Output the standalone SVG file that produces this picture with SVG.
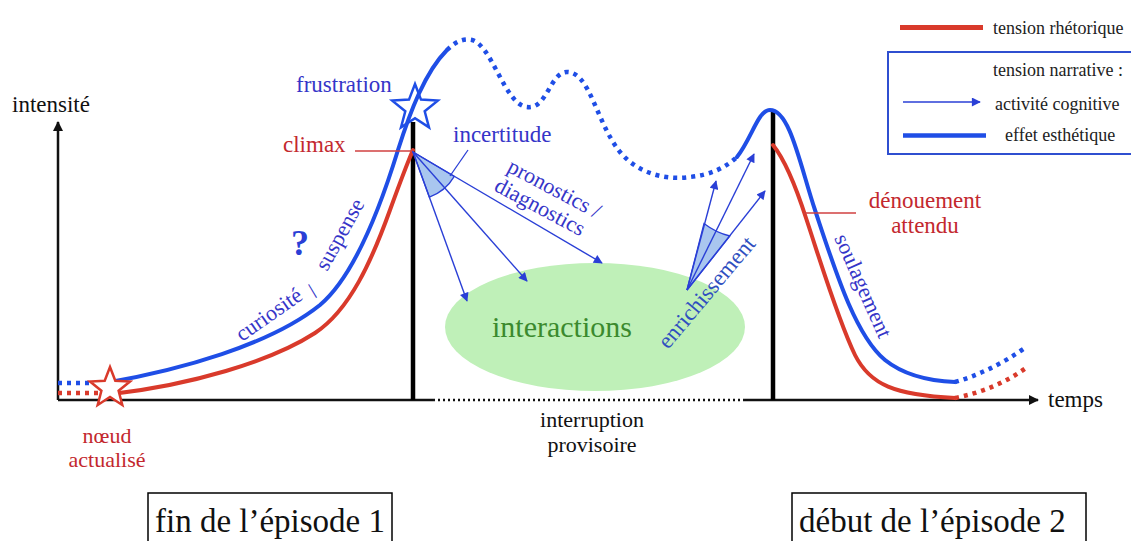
<svg xmlns="http://www.w3.org/2000/svg" width="1131" height="541" viewBox="0 0 1131 541" font-family="'Liberation Serif','DejaVu Serif',serif">
<style>
text{font-family:"Liberation Serif","DejaVu Serif",serif}
.bl{fill:#3535c8}
.rd{fill:#c3282e}
.bk{fill:#111}
.lg{fill:#222;font-size:18px}
.cb{fill:none;stroke:#1f4ee6;stroke-width:4;stroke-linecap:round}
.cr{fill:none;stroke:#d93a2b;stroke-width:4;stroke-linecap:round}
.db{fill:none;stroke:#1f4ee6;stroke-width:4.5;stroke-dasharray:4 5}
.dr{fill:none;stroke:#d93a2b;stroke-width:4.5;stroke-dasharray:4 5}
.ar{fill:none;stroke:#2a3fd6;stroke-width:1.4;marker-end:url(#ah)}
.wd{fill:#a9c6ef;stroke:#2a3fd6;stroke-width:1.3}
.ax{fill:none;stroke:#111;stroke-width:2.5}
.bar{stroke:#000;stroke-width:4.5}
</style>
<defs>
<marker id="ah" viewBox="0 0 10 10" refX="9" refY="5" markerUnits="userSpaceOnUse" markerWidth="10" markerHeight="9" orient="auto"><path d="M0,0 L10,5 L0,10 z" fill="#2a3fd6"/></marker>
<marker id="ak" viewBox="0 0 10 10" refX="9" refY="5" markerUnits="userSpaceOnUse" markerWidth="11" markerHeight="10" orient="auto"><path d="M0,0 L10,5 L0,10 z" fill="#111"/></marker>
</defs>

<g id="axes">
<path class="ax" d="M58,400 V122" marker-end="url(#ak)"/>
<path class="ax" d="M58,400 H433"/>
<path class="ax" d="M433,400 H745" stroke-dasharray="2 3"/>
<path class="ax" d="M745,400 H1038" marker-end="url(#ak)"/>
<text class="bk" x="12" y="112" font-size="23">intensité</text>
<text class="bk" x="1048" y="407" font-size="23">temps</text>
<text class="bk" x="592" y="427" font-size="22" text-anchor="middle">interruption</text>
<text class="bk" x="592" y="452" font-size="22" text-anchor="middle">provisoire</text>
</g>

<g id="ellipse-interactions">
<ellipse cx="595" cy="327" rx="150" ry="64" fill="#bff0b8"/>
<text x="562" y="337" font-size="30" fill="#3b8a2e" text-anchor="middle">interactions</text>
</g>

<g id="bars">
<line class="bar" x1="413" y1="400" x2="413" y2="122"/>
<line class="bar" x1="773" y1="400" x2="773" y2="112"/>
</g>

<g id="star-frustration">
<polygon points="415,84 421,99.6 437.8,100.6 424.7,111.2 429,127.4 415,118.3 401,127.4 405.3,111.2 392.2,100.6 409,99.6" fill="#fff" stroke="#1f4ee6" stroke-width="2.5"/>
<text class="bl" x="296" y="92" font-size="23">frustration</text>
</g>

<g id="curves">
<path class="db" d="M58,383 H105"/>
<path class="dr" d="M58,393 H100"/>
<path class="cb" d="M105,383 C180,370 270,345 320,305 C352,278 378,215 398,150 C410,112 425,72 447,50"/>
<path class="db" d="M447,50 C455,42 463,38 472,40 C492,45 505,105 527,107 C547,110 550,72 567,72 C590,72 596,122 620,152 C640,176 670,180 690,177 C710,175 725,168 737,157"/>
<path class="cb" d="M737,157 C752,138 758,110 770,110 C790,110 800,165 815,210 C835,270 855,335 885,360 C905,376 930,381 955,382"/>
<path class="db" d="M955,382 Q990,372 1025,348"/>
<path class="cr" d="M112,394 C190,385 270,362 315,333 C350,310 372,260 390,210 C398,188 406,166 413,150"/>
<path class="cr" d="M773,145 C785,160 797,190 806,218 C820,260 838,320 855,355 C870,385 895,395 955,398"/>
<path class="dr" d="M955,398 Q995,390 1026,368"/>
</g>

<g id="star-noeud">
<polygon points="110,367 115.3,380.7 130,381.5 118.6,390.8 122.3,405 110,397 97.7,405 101.4,390.8 90,381.5 104.7,380.7" fill="#fff" stroke="#d93a2b" stroke-width="2.5"/>
<text class="rd" x="107" y="443" font-size="22" text-anchor="middle">nœud</text>
<text class="rd" x="107" y="467" font-size="22" text-anchor="middle">actualisé</text>
</g>

<g id="climax">
<line x1="355" y1="151" x2="412" y2="151" stroke="#d04040" stroke-width="1.3"/>
<text class="rd" x="283" y="152" font-size="23">climax</text>
</g>

<g id="incertitude">
<path class="wd" d="M413,152 L429.4,197.1 A48,48 0 0 0 454.3,176.4 Z"/>
<path class="ar" d="M413,152 L467,301"/>
<path class="ar" d="M413,152 L527,281"/>
<path class="ar" d="M413,152 L602,263"/>
<line x1="468" y1="150" x2="450" y2="176" stroke="#2a3fd6" stroke-width="1.3"/>
<text class="bl" x="453" y="142" font-size="23">incertitude</text>
<text class="bl" x="506" y="171" font-size="22" transform="rotate(28 506 171)">pronostics /</text>
<text class="bl" x="493" y="190" font-size="22" transform="rotate(28 493 190)">diagnostics</text>
</g>

<g id="enrichissement">
<path class="wd" d="M687,290 L704,223.5 A69,69 0 0 0 729.9,236 Z"/>
<path class="ar" d="M687,290 L716,181"/>
<path class="ar" d="M687,290 L754,154"/>
<path class="ar" d="M687,290 L765,191"/>
<text x="668" y="350" font-size="23" fill="#2f4fc0" transform="rotate(-50 668 350)">enrichissement</text>
</g>

<g id="curiosite">
<text class="bl" x="242" y="342" font-size="22" transform="rotate(-35 242 342)">curiosité</text>
<text class="bl" x="316" y="298" font-size="22" transform="rotate(-50 316 298)">/</text>
<text class="bl" x="327" y="272" font-size="22" transform="rotate(-61 327 272)">suspense</text>
<text x="300" y="255" font-size="36" font-weight="bold" fill="#2a3fd6" text-anchor="middle">?</text>
</g>

<g id="denouement">
<line x1="804" y1="213" x2="856" y2="213" stroke="#d04040" stroke-width="1.5"/>
<text class="rd" x="925" y="208" font-size="23" text-anchor="middle">dénouement</text>
<text class="rd" x="925" y="233" font-size="23" text-anchor="middle">attendu</text>
<text class="bl" x="834" y="238" font-size="22" transform="rotate(66 834 238)">soulagement</text>
</g>

<g id="legend">
<line x1="900" y1="27.5" x2="983" y2="27.5" stroke="#d93a2b" stroke-width="5"/>
<text class="lg" x="993" y="34">tension rhétorique</text>
<rect x="888" y="52" width="250" height="102" fill="none" stroke="#2f4fd0" stroke-width="2"/>
<text class="lg" x="993" y="76">tension narrative :</text>
<line x1="903" y1="102" x2="980" y2="102" class="ar"/>
<text class="lg" x="995" y="110">activité cognitive</text>
<line x1="903" y1="135.5" x2="986" y2="135.5" stroke="#1f4ee6" stroke-width="4.5"/>
<text class="lg" x="1005" y="141">effet esthétique</text>
</g>

<g id="episode1">
<rect x="148" y="493" width="244" height="60" fill="none" stroke="#000" stroke-width="1.5"/>
<text class="bk" x="155" y="532" font-size="33">fin de l’épisode 1</text>
</g>
<g id="episode2">
<rect x="792" y="493" width="294" height="60" fill="none" stroke="#000" stroke-width="1.5"/>
<text class="bk" x="799" y="532" font-size="33">début de l’épisode 2</text>
</g>
</svg>
